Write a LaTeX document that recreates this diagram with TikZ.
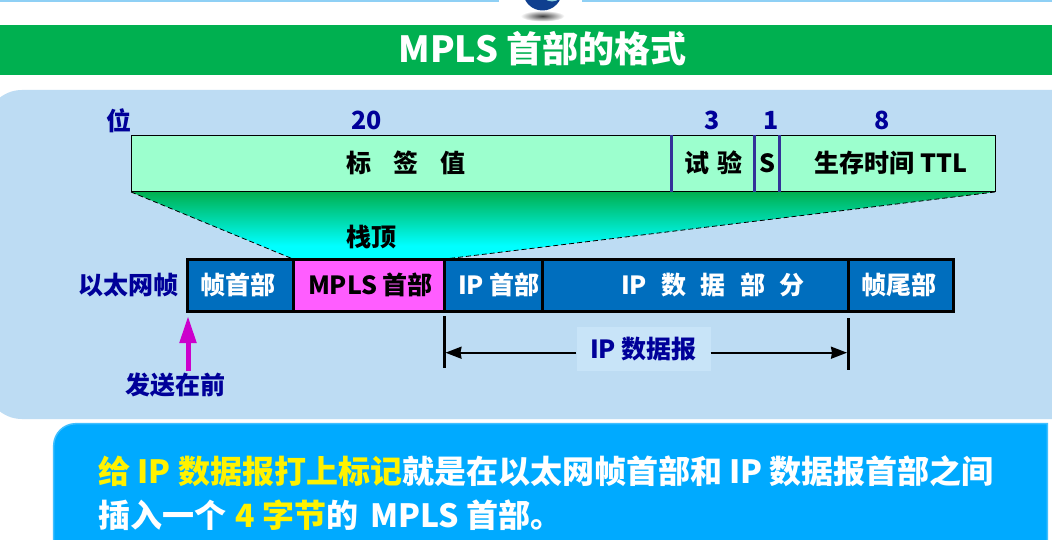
\documentclass[tikz,border=0pt]{standalone}
\usepackage{fontspec}
\setmainfont{Noto Sans CJK SC}
\usetikzlibrary{arrows.meta,shadings}
\definecolor{topline}{HTML}{8FD0F5}
\definecolor{band}{HTML}{00B050}
\definecolor{panel}{HTML}{BDDCF3}
\definecolor{mint}{HTML}{9CFFCE}
\definecolor{navy}{HTML}{000099}
\definecolor{rulec}{HTML}{333399}
\definecolor{framec}{HTML}{006EBE}
\definecolor{mplsc}{HTML}{FF5DFF}
\definecolor{notec}{HTML}{00AAFF}
\definecolor{noteedge}{HTML}{40BFFF}
\definecolor{labelbg}{HTML}{C8E4F8}
\definecolor{arrowm}{HTML}{CC00CC}
\definecolor{globedark}{HTML}{0F3F8F}
\definecolor{globelight}{HTML}{8FD3E0}
\pgfdeclareverticalshading{wedgeshade}{100bp}{color(0bp)=(cyan);color(35bp)=(cyan);color(75bp)=(band);color(100bp)=(band)}
\tikzset{
  x=1pt,y=-1pt,
  txt/.style={inner sep=0pt,font=\bfseries\fontsize{#1}{#1}\selectfont},
  txt/.default=25,
  fieldbox/.style={draw=black,line width=1pt,fill=mint,inner sep=0pt,outer sep=0pt,minimum height=56.5pt,anchor=north west},
  framebox/.style={draw=black,line width=3pt,fill=framec,inner sep=0pt,outer sep=0pt,minimum height=51.6pt,anchor=north west},
  sep/.style={rulec,line width=2.5pt},
  bracket/.style={black,line width=2.4pt},
  dim/.style={black,line width=2pt,-{Stealth[length=16pt,width=12pt,inset=1pt]}},
}
\begin{document}
\begin{tikzpicture}
\clip (0,0) rectangle (1052,540);
\fill[white] (0,0) rectangle (1052,540);
% top strip and globe
\fill[topline] (0,0) rectangle (499,2);
\fill[topline] (582,0) rectangle (1052,2);
\shade[inner color=black!75,outer color=white] (542.5,16) ellipse (22 and 5.5);
\fill[globedark] (542.5,-9) circle (19.5);
\begin{scope}
\clip (542.5,-9) circle (19.5);
\fill[globelight] (552,-10) circle (11.5);
\end{scope}
% title
\fill[band] (0,25) rectangle (1052,75);
\node[txt=36,white] (title) at (542.5,49) {MPLS 首部的格式};
% panel
\fill[panel,rounded corners=36pt] (-14,90) rectangle (1090,419);
% wedge
\coordinate (wa) at (131,192);
\coordinate (wb) at (995,192);
\coordinate (wc) at (445,259);
\coordinate (wd) at (293,259);
\shade[shading=wedgeshade] (wa) -- (wb) -- (wc) -- (wd) -- cycle;
\draw[line width=.8pt,dash pattern=on 5pt off 3pt] (wa) -- (wd);
\draw[line width=.8pt,dash pattern=on 5pt off 3pt] (wb) -- (wc);
% field row
\node[fieldbox,minimum width=864pt] (fields) at (131.5,135.2) {};
\coordinate (s1t) at (671.4,135.2); \coordinate (s1b) at (671.4,191.7);
\coordinate (s2t) at (754.3,135.2); \coordinate (s2b) at (754.3,191.7);
\coordinate (s3t) at (779.3,135.2); \coordinate (s3b) at (779.3,191.7);
\draw[sep] (s1t) -- (s1b);
\draw[sep] (s2t) -- (s2b);
\draw[sep] (s3t) -- (s3b);
\node[txt=25,navy] (wei) at (119,121) {位};
\node[txt=25,navy] (n20) at (366.5,120) {20};
\node[txt=25,navy] (n3) at (712,120) {3};
\node[txt=25,navy] (n1) at (771,120) {1};
\node[txt=25,navy] (n8) at (882,120) {8};
\node[txt=25] (f1) at (406,163) {标\hspace{22pt}签\hspace{22pt}值};
\node[txt=25] (f2) at (713,163) {试\hspace{8pt}验};
\node[txt=25] (f3) at (767,163) {S};
\node[txt=25] (f4) at (891,163) {生存时间 TTL};
\node[txt=25] (top) at (371,237) {栈顶};
% frame row
\node[framebox,minimum width=105.6pt] (c1) at (187.7,259.7) {};
\node[framebox,minimum width=151pt,fill=mplsc] (c2) at (293.3,259.7) {};
\node[framebox,minimum width=98.4pt] (c3) at (444.3,259.7) {};
\node[framebox,minimum width=305.6pt] (c4) at (542.7,259.7) {};
\node[framebox,minimum width=105.2pt] (c5) at (848.3,259.7) {};
\node[txt=25,white] (t1) at (238,285) {帧首部};
\node[txt=25,black] (t2) at (370.5,285) {MPLS 首部};
\node[txt=25,white] (t3) at (499,285) {IP 首部};
\node[txt=25,white] (t4) at (713,285) {IP\hspace{14.5pt}数\hspace{14.5pt}据\hspace{14.5pt}部\hspace{14.5pt}分};
\node[txt=25,white] (t5) at (899,285) {帧尾部};
\node[txt=25,navy] (eth) at (128,285) {以太网帧};
% send-first arrow
\node[txt=25,navy] (send) at (175,385) {发送在前};
\coordinate (sa) at (188,371);
\coordinate (sb) at (188,316);
\draw[arrowm,line width=5pt,-{Triangle[length=27pt,width=16pt]}] (sa) -- (sb);
% IP datagram span
\coordinate (b1t) at (444.3,316); \coordinate (b1b) at (444.3,368);
\coordinate (b2t) at (848.3,318); \coordinate (b2b) at (848.3,370);
\draw[bracket] (b1t) -- (b1b);
\draw[bracket] (b2t) -- (b2b);
\coordinate (da) at (445.5,352.7);
\coordinate (db) at (847,352.7);
\node[fill=labelbg,minimum width=134pt,minimum height=44pt,inner sep=0pt] (ipd) at (643.5,349) {\bfseries\fontsize{25}{25}\selectfont\textcolor{navy}{IP 数据报}};
\draw[dim] (ipd.west|-da) -- (da);
\draw[dim] (ipd.east|-db) -- (db);
% note
\path[fill=notec,draw=noteedge,line width=1.5pt] (53.7,580) -- (53.7,445.7) .. controls (53.7,433.5) and (63.5,423.7) .. (75.7,423.7) -- (1047.3,423.7) -- (1047.3,580) -- cycle;
\node[txt=32,white,anchor=west] (l1) at (98,471) {\textcolor{yellow}{给 IP 数据报打上标记}就是在以太网帧首部和 IP 数据报首部之间};
\node[txt=32,white,anchor=west] (l2) at (98,515) {插入一个\hspace{2pt} \textcolor{yellow}{4 字节}的\hspace{5pt} MPLS 首部。};
\end{tikzpicture}
\end{document}
